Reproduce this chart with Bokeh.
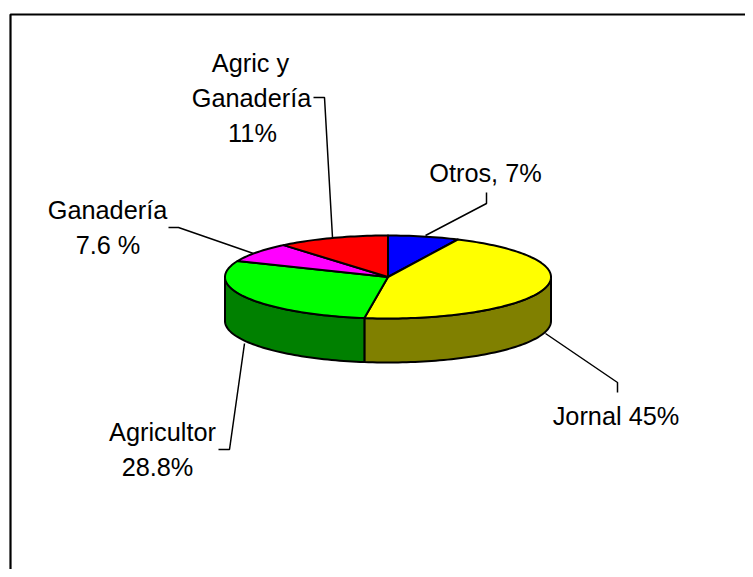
import math
from bokeh.plotting import figure
from bokeh.models import Range1d
from bokeh.core.properties import value
from bokeh.embed import file_html
from bokeh.resources import INLINE

names = ["Otros", "Jornal", "Agricultor", "Ganadería", "Agric y Ganadería"]
shares = [7, 45, 28.8, 7.6, 11]
top_colors = ["#0000ff", "#ffff00", "#00ff00", "#ff00ff", "#ff0000"]
side_colors = ["#000080", "#808000", "#008000", "#800080", "#800000"]

labels = [
    ("Otros, 7%", 485, 172),
    ("Jornal 45%", 615.5, 415),
    ("Agricultor", 162, 431),
    ("28.8%", 157, 466),
    ("Ganadería", 107, 209),
    ("7.6 %", 107.5, 244),
    ("Agric y", 250, 62),
    ("Ganadería", 251, 97),
    ("11%", 252, 132),
]
leaders = [
    ([425, 486, 486], [235, 203, 192]),
    ([545, 617, 617], [333, 382, 392]),
    ([244, 229, 218], [343, 449, 449]),
    ([253, 178, 168], [253, 227, 227]),
    ([332, 324, 313], [237, 97, 97]),
]

CX, CY, RX, RY, DEPTH = 387.5, 276.5, 163, 41.5, 44
W, H = 745, 569

p = figure(width=W, height=H, output_backend="svg", toolbar_location=None,
           x_range=Range1d(0, W), y_range=Range1d(H, 0),
           min_border=0, outline_line_color=None)
p.xaxis.visible = False
p.yaxis.visible = False
p.xgrid.visible = False
p.ygrid.visible = False

def pt(a, dy=0.0):
    r = math.radians(a)
    return CX + RX * math.sin(r), CY - RY * math.cos(r) + dy

def arc(a0, a1, dy=0.0):
    n = max(2, int(abs(a1 - a0) / 1.5) + 1)
    return [pt(a0 + (a1 - a0) * i / n, dy) for i in range(n + 1)]

total = sum(shares)
edges = [0.0]
for s in shares:
    edges.append(edges[-1] + s / total * 360)

# outer sides of the slices that face the viewer
for i in range(len(shares)):
    a0, a1 = max(edges[i], 90), min(edges[i + 1], 270)
    if a0 >= a1:
        continue
    pts = arc(a0, a1) + arc(a1, a0, DEPTH)
    p.patch([q[0] for q in pts], [q[1] for q in pts], fill_color=side_colors[i],
            line_color="black", line_width=2, line_join="round")

# top faces
for i in range(len(shares)):
    pts = [(CX, CY)] + arc(edges[i], edges[i + 1])
    p.patch([q[0] for q in pts], [q[1] for q in pts], fill_color=top_colors[i],
            line_color="black", line_width=2, line_join="round")

for xs, ys in leaders:
    p.line(xs, ys, line_color="black", line_width=1.5)

# chart frame, running off the right and bottom of the picture
p.line([10, 10, W], [H, 14, 14], line_color="black", line_width=2.2)

p.text([l[1] for l in labels], [l[2] for l in labels], text=[l[0] for l in labels],
       text_font=value("Liberation Sans"), text_font_size="25.3px", text_color="black",
       text_align="center", text_baseline="middle")

open("out.html", "w").write(file_html(p, INLINE))
